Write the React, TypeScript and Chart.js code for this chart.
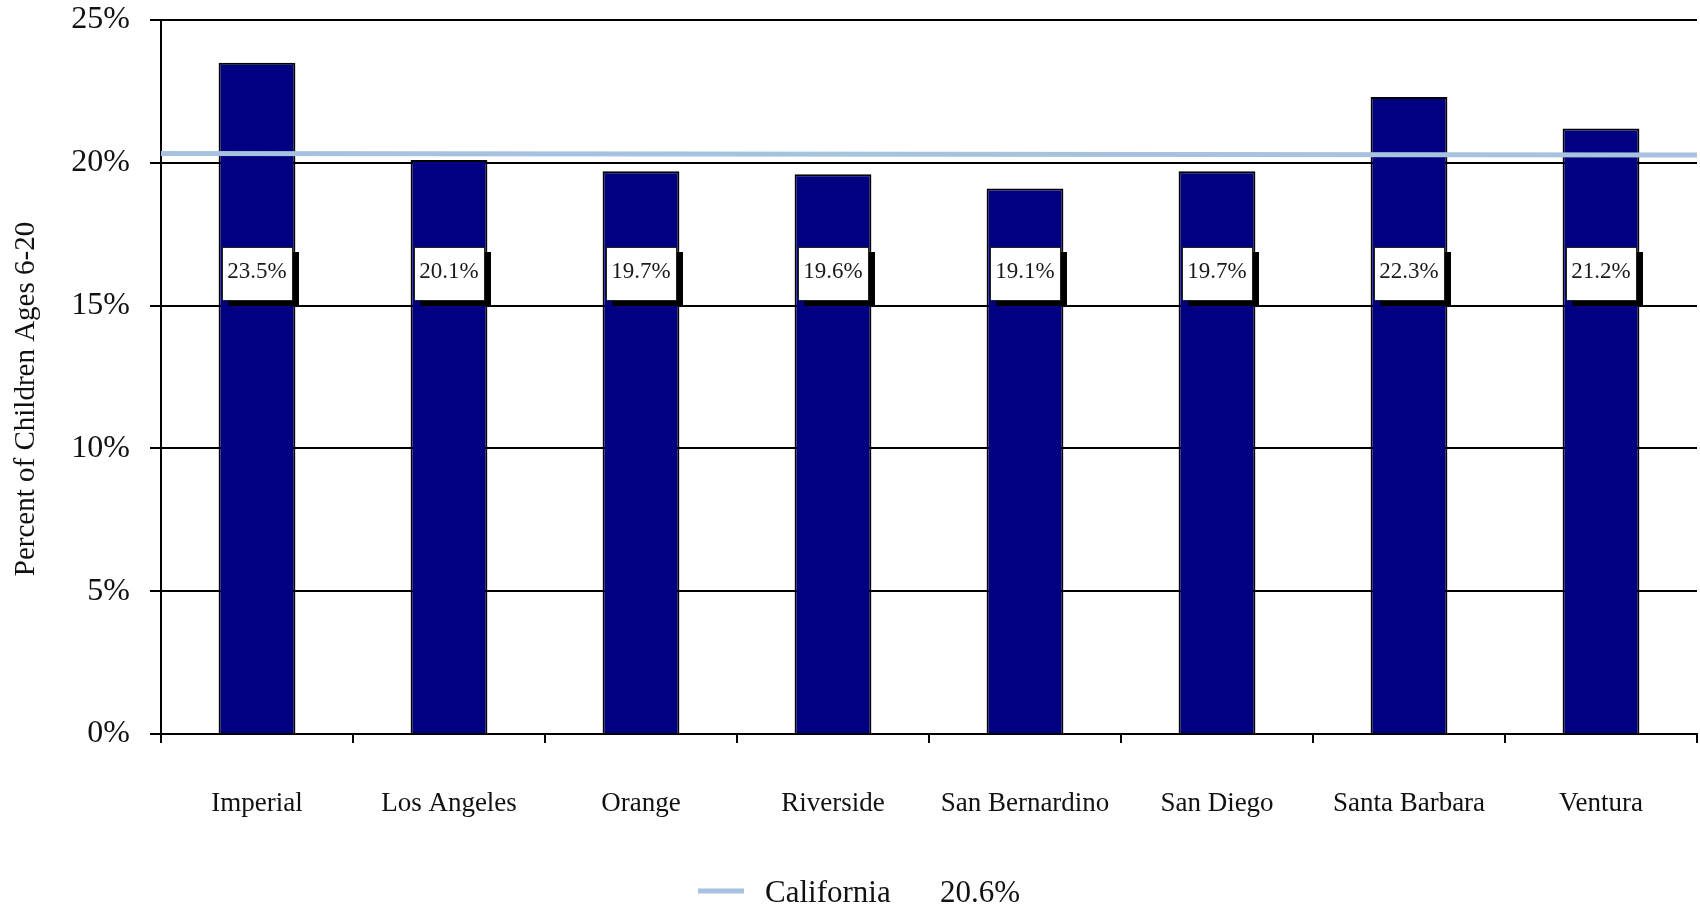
import React, { useEffect, useRef } from "react";
import { Chart, registerables } from "chart.js";

Chart.register(...registerables);

const COUNTIES = [
  "Imperial",
  "Los Angeles",
  "Orange",
  "Riverside",
  "San Bernardino",
  "San Diego",
  "Santa Barbara",
  "Ventura",
];
const PERCENTS = [23.5, 20.1, 19.7, 19.6, 19.1, 19.7, 22.3, 21.2];
const CALIFORNIA_LINE = [20.33, 20.27];
const CALIFORNIA_LABEL = "California";
const CALIFORNIA_VALUE = "20.6%";
const Y_TICKS = [0, 5, 10, 15, 20, 25];
const Y_TITLE = "Percent of Children Ages 6-20";
const LABEL_LEVEL = 16.1;

const FONT = "'Liberation Serif', 'Times New Roman', serif";
const NAVY = "#000080";
const LINE_BLUE = "#a7c2df";

const overlayPlugin = {
  id: "overlay",
  afterDatasetsDraw(chart: any) {
    const ctx = chart.ctx;
    const meta = chart.getDatasetMeta(0);
    const yScale = chart.scales.y;
    const cy = yScale.getPixelForValue(LABEL_LEVEL);
    ctx.save();
    ctx.font = `23px ${FONT}`;
    meta.data.forEach((bar: any, i: number) => {
      const text = PERCENTS[i].toFixed(1) + "%";
      const tw = ctx.measureText(text).width;
      const w = Math.round(tw + 12);
      const h = 54;
      const x = Math.round(bar.x - w / 2);
      const y = Math.round(cy - h / 2);
      ctx.fillStyle = "#000";
      ctx.fillRect(x + 6, y + 5, w, h);
      ctx.fillStyle = "#fff";
      ctx.fillRect(x, y, w, h);
      ctx.strokeStyle = "#222";
      ctx.lineWidth = 1;
      ctx.strokeRect(x + 0.5, y + 0.5, w - 1, h - 1);
      ctx.fillStyle = "#1a1a1a";
      ctx.textAlign = "center";
      ctx.textBaseline = "middle";
      ctx.fillText(text, bar.x, cy - 2);
    });
    ctx.restore();
  },
  afterDraw(chart: any) {
    const ctx = chart.ctx;
    ctx.save();
    ctx.translate(26, 399);
    ctx.rotate(-Math.PI / 2);
    ctx.font = `29px ${FONT}`;
    ctx.fillStyle = "#111";
    ctx.textAlign = "center";
    ctx.textBaseline = "middle";
    ctx.fillText(Y_TITLE, 0, 0);
    ctx.restore();
    ctx.save();
    ctx.strokeStyle = LINE_BLUE;
    ctx.lineWidth = 5;
    ctx.beginPath();
    ctx.moveTo(698, 891);
    ctx.lineTo(744, 891);
    ctx.stroke();
    ctx.font = `31px ${FONT}`;
    ctx.fillStyle = "#111";
    ctx.textAlign = "left";
    ctx.textBaseline = "middle";
    ctx.fillText(CALIFORNIA_LABEL, 765, 894);
    ctx.fillText(CALIFORNIA_VALUE, 940, 894);
    ctx.restore();
  },
};

export default function App() {
  const ref = useRef<HTMLCanvasElement>(null);
  useEffect(() => {
    if (!ref.current) return;
    const chart = new Chart(ref.current, {
      type: "bar",
      data: {
        labels: COUNTIES,
        datasets: [
          {
            type: "bar",
            label: "County",
            data: PERCENTS,
            backgroundColor: NAVY,
            borderColor: "#000",
            borderWidth: 2,
            barPercentage: 0.4,
            categoryPercentage: 1,
            grouped: false,
            order: 1,
          } as any,
          {
            type: "line",
            label: CALIFORNIA_LABEL,
            data: CALIFORNIA_LINE.map((v, i) => ({ x: i, y: v })),
            xAxisID: "xl",
            borderColor: LINE_BLUE,
            borderWidth: 5,
            pointRadius: 0,
            fill: false,
            tension: 0,
            clip: false,
            order: 0,
          } as any,
        ],
      },
      options: {
        animation: false,
        responsive: true,
        maintainAspectRatio: false,
        layout: { padding: { top: 20, right: 3, bottom: 40, left: 0 } },
        plugins: {
          legend: { display: false },
          tooltip: { enabled: false },
          title: { display: false },
        },
        scales: {
          x: {
            type: "category",
            offset: true,
            grid: {
              offset: true,
              drawOnChartArea: false,
              drawTicks: true,
              tickLength: 9,
              color: "#000",
              lineWidth: 2,
            },
            border: { display: true, color: "#000", width: 2 },
            ticks: {
              color: "#111",
              font: { family: FONT, size: 27 },
              padding: 45,
              maxRotation: 0,
              autoSkip: false,
            },
            afterFit(scale: any) {
              scale.height = 910 - 40 - 734;
              scale.paddingLeft = 0;
              scale.paddingRight = 0;
            },
          },
          xl: {
            type: "linear",
            display: false,
            offset: false,
            grid: { offset: false },
            min: 0,
            max: 1,
          },
          y: {
            type: "linear",
            min: 0,
            max: 25,
            afterBuildTicks(scale: any) {
              scale.ticks = Y_TICKS.map((v) => ({ value: v }));
            },
            grid: {
              color: "#000",
              lineWidth: 2,
              drawTicks: true,
              tickLength: 11,
            },
            border: { display: true, color: "#000", width: 2 },
            ticks: {
              color: "#111",
              font: { family: FONT, size: 32 },
              padding: 20,
              callback: (v: any) => `${v}%`,
            },
            afterFit(scale: any) {
              scale.width = 161;
              scale.paddingTop = 0;
              scale.paddingBottom = 0;
            },
          },
        },
      },
      plugins: [overlayPlugin],
    });
    return () => chart.destroy();
  }, []);
  return (
    <div style={{ position: "absolute", left: 0, top: 0, width: 1700, height: 910, background: "#fff" }}>
      <canvas ref={ref} />
    </div>
  );
}
